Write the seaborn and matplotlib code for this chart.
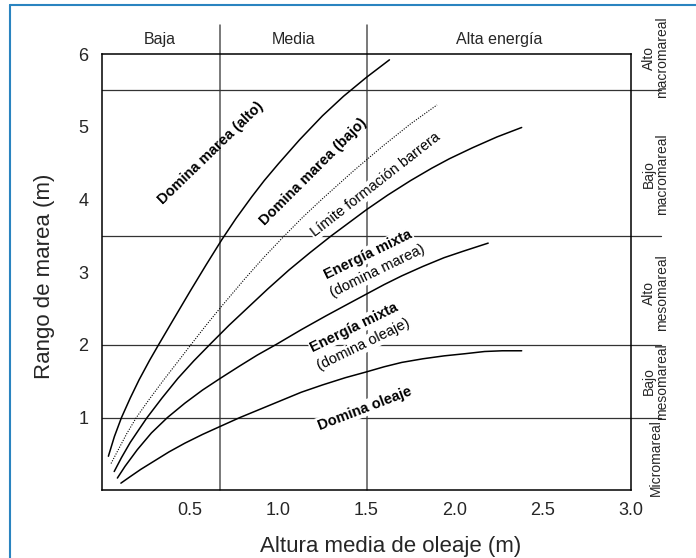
import numpy as np
import pandas as pd
import matplotlib
matplotlib.use("Agg")
import matplotlib.pyplot as plt
import seaborn as sns
from matplotlib.lines import Line2D

# curvas límite
alto_x = [0.036, 0.07, 0.11, 0.16, 0.21, 0.27, 0.32, 0.40, 0.50, 0.59, 0.68, 0.76, 0.85, 0.92,
          1.00, 1.12, 1.25, 1.37, 1.50, 1.63]
alto_y = [0.47, 0.74, 1.00, 1.27, 1.52, 1.79, 2.00, 2.33, 2.74, 3.10, 3.45, 3.74, 4.04, 4.26,
          4.49, 4.82, 5.15, 5.42, 5.68, 5.92]

barrera_x = [0.051, 0.09, 0.14, 0.194, 0.27, 0.35, 0.43, 0.503, 0.59, 0.674, 0.81, 0.92, 1.03,
             1.14, 1.25, 1.42, 1.59, 1.75, 1.90]
barrera_y = [0.37, 0.55, 0.78, 1.00, 1.26, 1.52, 1.77, 2.00, 2.27, 2.52, 2.91, 3.21, 3.49,
             3.76, 4.01, 4.38, 4.73, 5.04, 5.30]

bajo_x = [0.069, 0.11, 0.16, 0.21, 0.255, 0.34, 0.43, 0.52, 0.617, 0.72, 0.83, 0.94, 1.06, 1.18,
          1.30, 1.40, 1.50, 1.62, 1.75, 1.87, 1.97, 2.10, 2.24, 2.38]
bajo_y = [0.26, 0.45, 0.66, 0.84, 1.00, 1.27, 1.54, 1.78, 2.02, 2.27, 2.52, 2.77, 3.03, 3.27,
          3.50, 3.68, 3.86, 4.06, 4.26, 4.43, 4.56, 4.71, 4.86, 4.99]

mixta_x = [0.087, 0.13, 0.20, 0.28, 0.37, 0.47, 0.57, 0.67, 0.78, 0.88, 0.99, 1.13, 1.27, 1.40,
           1.50, 1.60, 1.70, 1.82, 1.94, 2.05, 2.19]
mixta_y = [0.17, 0.33, 0.56, 0.79, 1.00, 1.20, 1.38, 1.54, 1.71, 1.86, 2.01, 2.21, 2.40, 2.57,
           2.70, 2.83, 2.95, 3.08, 3.20, 3.29, 3.40]

oleaje_x = [0.107, 0.16, 0.22, 0.30, 0.38, 0.47, 0.57, 0.67, 0.78, 0.90, 1.01, 1.13, 1.25, 1.38,
            1.50, 1.60, 1.70, 1.82, 1.94, 2.06, 2.17, 2.27, 2.38]
oleaje_y = [0.10, 0.19, 0.29, 0.41, 0.53, 0.65, 0.77, 0.88, 1.00, 1.12, 1.23, 1.35, 1.45, 1.55,
            1.63, 1.70, 1.76, 1.81, 1.85, 1.88, 1.91, 1.92, 1.92]

# límites de energía y de marea
energia_lim = [0.67, 1.50]
energia_lab = ["Baja", "Media", "Alta energía"]
energia_pos = [0.33, 1.085, 2.25]
marea_lim = [1.0, 2.0, 3.5, 5.5]
marea_lab = ["Alto\nmacromareal", "Bajo\nmacromareal", "Alto\nmesomareal",
             "Bajo\nmesomareal", "Micromareal"]
marea_pos = [5.95, 4.35, 2.72, 1.50, 0.45]

sns.set_style("white")
plt.rcParams["font.family"] = ["Liberation Sans", "DejaVu Sans"]

fig = plt.figure(figsize=(6.96, 5.58), dpi=100)
ax = fig.add_axes([0.1466, 0.1211, 0.7600, 0.7821])

curvas = [(alto_x, alto_y, "-"), (barrera_x, barrera_y, ":"), (bajo_x, bajo_y, "-"),
          (mixta_x, mixta_y, "-"), (oleaje_x, oleaje_y, "-")]
for cx, cy, ls in curvas:
    df = pd.DataFrame({"x": cx, "y": cy})
    sns.lineplot(data=df, x="x", y="y", ax=ax, color="black", sort=False, estimator=None,
                 lw=0.8 if ls == ":" else 1.1, linestyle=(0, (1, 1.3)) if ls == ":" else "-",
                 zorder=3)

for xv in energia_lim:
    ax.add_line(Line2D([xv, xv], [0, 6.4], color="#555555", lw=1.1, clip_on=False, zorder=1))
for yv in marea_lim:
    ax.add_line(Line2D([0, 3.17], [yv, yv], color="#333333", lw=0.9, clip_on=False, zorder=1))

for lab, xp in zip(energia_lab, energia_pos):
    ax.text(xp, 6.2, lab, ha="center", va="center", fontsize=11.5)
for lab, yp in zip(marea_lab, marea_pos):
    ax.text(3.14, yp, lab, ha="center", va="center", rotation=90, fontsize=10,
            linespacing=0.95, clip_on=False)

# etiquetas de las zonas: primero el fondo blanco, luego el texto
etiquetas = [
    (0.617, 4.64, "Domina marea (alto)", 44, "bold", False),
    (1.198, 4.38, "Domina marea (bajo)", 45, "bold", False),
    (1.55, 4.20, "Límite formación barrera", 38, "normal", True),
    (1.509, 3.245, "Energía mixta", 26, "bold", True),
    (1.563, 3.017, "(domina marea)", 26, "normal", True),
    (1.431, 2.241, "Energía mixta", 26, "bold", True),
    (1.483, 2.00, "(domina oleaje)", 26, "normal", True),
    (1.49, 1.13, "Domina oleaje", 21, "bold", True),
]
kw = dict(ha="center", va="center", rotation_mode="anchor", fontsize=10.5)
for xp, yp, lab, rot, fw, fondo in etiquetas:
    if fondo:
        ax.text(xp, yp, lab, rotation=rot, fontweight=fw, color="white", zorder=3.5,
                bbox=dict(facecolor="white", edgecolor="none", pad=0.8), **kw)
    ax.text(xp, yp, lab, rotation=rot, fontweight=fw, color="black", zorder=4, **kw)

ax.set_xlim(0, 3)
ax.set_ylim(0, 6)
ax.set_xticks([0.5, 1.0, 1.5, 2.0, 2.5, 3.0])
ax.set_xticklabels(["0.5", "1.0", "1.5", "2.0", "2.5", "3.0"])
ax.set_yticks([1, 2, 3, 4, 5, 6])
ax.tick_params(axis="x", direction="in", length=8, width=1, labelsize=13, pad=8)
ax.tick_params(axis="y", direction="inout", length=14, width=1, labelsize=13, pad=3)
for s in ax.spines.values():
    s.set_color("black")
    s.set_linewidth(1.1)

ax.set_xlabel("Altura media de oleaje (m)", fontsize=16)
ax.set_ylabel("Rango de marea (m)", fontsize=16)
ax.xaxis.set_label_coords(0.546, -0.104)
ax.yaxis.set_label_coords(-0.088, 0.49)

# marco azul
fig.add_artist(Line2D([0.0145, 0.0145], [0, 0.991], color="#2a84c0", lw=1.5))
fig.add_artist(Line2D([0.0145, 1], [0.991, 0.991], color="#2a84c0", lw=1.5))

fig.savefig("out.png", dpi=100)
